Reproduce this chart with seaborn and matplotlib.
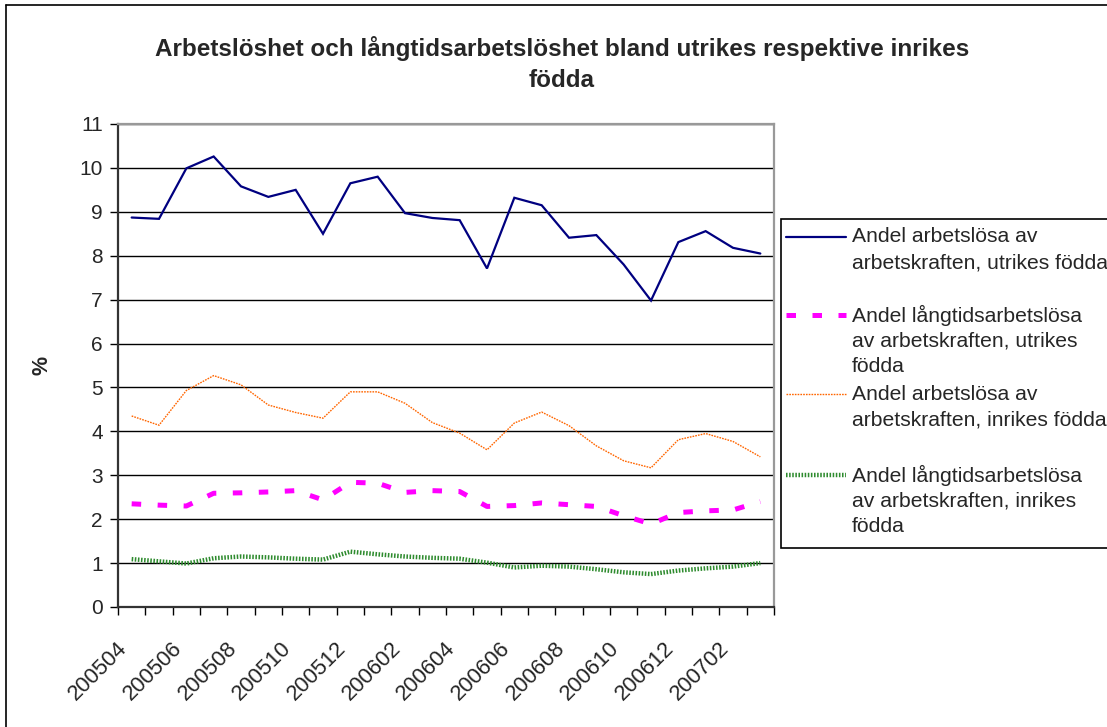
import numpy as np
import pandas as pd
import matplotlib
matplotlib.use("Agg")
import matplotlib.pyplot as plt
from matplotlib.lines import Line2D
from matplotlib.patches import Rectangle
import seaborn as sns

months = ["200504", "200505", "200506", "200507", "200508", "200509", "200510", "200511",
          "200512", "200601", "200602", "200603", "200604", "200605", "200606", "200607",
          "200608", "200609", "200610", "200611", "200612", "200701", "200702", "200703"]

utrikes_arbetslosa = [8.87, 8.84, 9.99, 10.26, 9.58, 9.34, 9.50, 8.50, 9.65, 9.80, 8.97, 8.86,
                      8.81, 7.71, 9.32, 9.15, 8.41, 8.47, 7.80, 6.98, 8.31, 8.56, 8.18, 8.05]
utrikes_langtid = [2.35, 2.32, 2.30, 2.59, 2.60, 2.62, 2.65, 2.44, 2.84, 2.82, 2.61, 2.65,
                   2.63, 2.29, 2.31, 2.37, 2.33, 2.29, 2.08, 1.89, 2.15, 2.19, 2.21, 2.40]
inrikes_arbetslosa = [4.35, 4.14, 4.93, 5.27, 5.06, 4.60, 4.43, 4.30, 4.90, 4.90, 4.64, 4.20,
                      3.96, 3.58, 4.19, 4.44, 4.13, 3.67, 3.33, 3.17, 3.81, 3.95, 3.77, 3.42]
inrikes_langtid = [1.09, 1.04, 0.99, 1.11, 1.15, 1.13, 1.10, 1.08, 1.26, 1.20, 1.15, 1.12,
                   1.10, 1.01, 0.90, 0.94, 0.92, 0.86, 0.79, 0.75, 0.83, 0.88, 0.92, 1.00]

series_labels = [
    "Andel arbetslösa av\narbetskraften, utrikes födda",
    "Andel långtidsarbetslösa\nav arbetskraften, utrikes\nfödda",
    "Andel arbetslösa av\narbetskraften, inrikes födda",
    "Andel långtidsarbetslösa\nav arbetskraften, inrikes\nfödda",
]
tick_labels = months[::2]
title_lines = "Arbetslöshet och långtidsarbetslöshet bland utrikes respektive inrikes\nfödda"
ylabel = "%"

sns.set_theme(style="white")
plt.rcParams['font.family'] = ['Liberation Sans', 'DejaVu Sans']

W, H = 1107, 727
fig = plt.figure(figsize=(W / 100, H / 100), dpi=100)
fig.patch.set_facecolor("white")
ax = fig.add_axes([118 / W, 1 - 607 / H, (774 - 118) / W, (607 - 124) / H])

styles = [
    dict(color="#000080", lw=1.6, ls="-"),
    dict(color="#FF00FF", lw=3.6, ls=(0, (1.9, 3.3))),
    dict(color="#FF6600", lw=1.0, ls=(0, (1.2, 0.8))),
    dict(color="#2E8B2E", lw=3.2, ls=(0, (0.35, 0.35))),
]
values = [utrikes_arbetslosa, utrikes_langtid, inrikes_arbetslosa, inrikes_langtid]
xpos = np.arange(len(months))
for vals, st in zip(values, styles):
    sns.lineplot(x=xpos, y=vals, ax=ax, color=st["color"], linewidth=st["lw"],
                 linestyle=st["ls"], legend=False, solid_joinstyle="miter",
                 dash_capstyle="butt", zorder=3)

ax.set_xlim(-0.5, len(months) - 0.5)
ax.set_ylim(0, 11)
ax.set_yticks(range(0, 12))
ax.set_yticklabels([str(v) for v in range(0, 12)], fontsize=15)
ax.yaxis.grid(True, color="black", lw=1.0)
ax.set_axisbelow(True)
ax.set_xticks(np.arange(-0.5, len(months), 1.0))
ax.set_xticklabels([])
ax.set_xticks(np.arange(0, len(months), 2), minor=True)
ax.set_xticklabels(tick_labels, minor=True, rotation=45, ha="right", va="bottom",
                   rotation_mode="anchor", fontsize=15.8)
ax.tick_params(axis="x", which="major", length=6, width=1, color="black", direction="out", bottom=True)
ax.tick_params(axis="x", which="minor", length=0, pad=33)
ax.tick_params(axis="y", length=6, width=1, color="black", direction="out", left=True, pad=5)
ax.set_xlabel("")
ax.set_ylabel(ylabel, fontsize=15.5, fontweight="bold", labelpad=19)

for side in ["left", "bottom"]:
    ax.spines[side].set_color("#333333")
    ax.spines[side].set_linewidth(1.6)
for side in ["top", "right"]:
    ax.spines[side].set_color("#999999")
    ax.spines[side].set_linewidth(1.6)

fig.text(562 / W, 1 - 64 / H, title_lines, ha="center", va="center", fontsize=17.5,
         fontweight="bold", linespacing=1.42)

# figure frame (left & top edges)
fig.add_artist(Line2D([6 / W, 6 / W], [0, 1 - 5 / H], transform=fig.transFigure, color="black", lw=1.2))
fig.add_artist(Line2D([6 / W, 1], [1 - 5 / H, 1 - 5 / H], transform=fig.transFigure, color="black", lw=1.2))

# legend box
fig.add_artist(Rectangle((781 / W, 1 - 548 / H), (1120 - 781) / W, (548 - 219) / H,
                         transform=fig.transFigure, facecolor="white", edgecolor="black", lw=1.2))
first_line_y = [237, 315, 394, 475]
line_h = 26
for lbl, st, y0 in zip(series_labels, styles, first_line_y):
    fig.add_artist(Line2D([786 / W, 846 / W], [1 - y0 / H, 1 - y0 / H], transform=fig.transFigure,
                          color=st["color"], lw=st["lw"], ls=st["ls"], dash_capstyle="butt"))
    for k, line in enumerate(lbl.split("\n")):
        fig.text(852 / W, 1 - (y0 + k * line_h) / H, line, ha="left", va="center", fontsize=15.2)

fig.savefig("out.png", dpi=100)
